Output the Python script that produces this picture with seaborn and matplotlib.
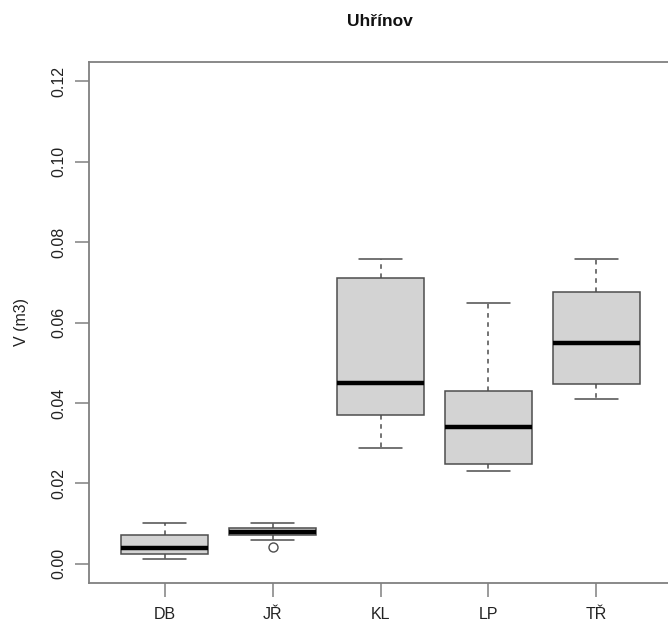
import numpy as np
import pandas as pd
import matplotlib
matplotlib.use("Agg")
import matplotlib.pyplot as plt
import seaborn as sns

# Data (values in m3)
categories = ["DB", "JŘ", "KL", "LP", "TŘ"]
db_values = [0.0012, 0.0024, 0.0040, 0.0071, 0.0101]
jr_values = [0.0041, 0.0060, 0.0071, 0.0076, 0.0080, 0.0085, 0.0090, 0.0095, 0.0101]
kl_values = [0.0289, 0.0370, 0.0450, 0.0710, 0.0759]
lp_values = [0.0231, 0.0247, 0.0340, 0.0430, 0.0649]
tr_values = [0.0410, 0.0446, 0.0548, 0.0675, 0.0759]
y_ticks = [0.00, 0.02, 0.04, 0.06, 0.08, 0.10, 0.12]
y_tick_labels = ["0.00", "0.02", "0.04", "0.06", "0.08", "0.10", "0.12"]

groups = [db_values, jr_values, kl_values, lp_values, tr_values]
df = pd.DataFrame({
    "site": np.concatenate([[c] * len(v) for c, v in zip(categories, groups)]),
    "V": np.concatenate(groups),
})

sns.set_style("white")
plt.rcParams["font.family"] = ["Liberation Sans", "DejaVu Sans"]

fig = plt.figure(figsize=(6.68, 6.22), dpi=100)
W, H = 668, 622
left, right, top, bottom = 89, 672, 62, 583
ax = fig.add_axes([left / W, (H - bottom) / H, (right - left) / W, (bottom - top) / H])

edge = "#4d4d4d"
sns.boxplot(
    data=df, x="site", y="V", order=categories, ax=ax,
    color="#d3d3d3", saturation=1, width=0.8, linecolor=edge, linewidth=1.1,
    medianprops=dict(color="black", linewidth=3.2, solid_capstyle="butt"),
    whiskerprops=dict(color=edge, linestyle=(0, (3, 3)), linewidth=1.1),
    capprops=dict(color=edge, linewidth=1.1),
    flierprops=dict(marker="o", markerfacecolor="none", markeredgecolor=edge,
                    markersize=6.5, markeredgewidth=1.0),
)

ax.set_xlim(-0.7, 4.7)
ax.set_ylim(-0.0048, 0.1248)
ax.set_yticks(y_ticks)
ax.set_yticklabels(y_tick_labels)
ax.set_xlabel("")
ax.set_ylabel("V (m3)", fontsize=11.5, color="#222222")
ax.yaxis.set_label_coords((29 - left) / (right - left), 0.5)
for lab in ax.get_yticklabels():
    lab.set_rotation(90)
    lab.set_va("center")

for s in ax.spines.values():
    s.set_color("#808080")
    s.set_linewidth(1.3)

ax.tick_params(axis="both", which="both", direction="out", length=10, width=1.1,
               color="#808080", labelsize=11.5, labelcolor="#222222",
               left=True, bottom=True)
ax.tick_params(axis="x", pad=7)
ax.tick_params(axis="y", pad=6.5)

fig.text(380 / W, 1 - 22 / H, "Uhřínov", ha="center", va="center",
         fontsize=12.5, fontweight="bold", color="#111111")

fig.savefig("out.png", dpi=100)
